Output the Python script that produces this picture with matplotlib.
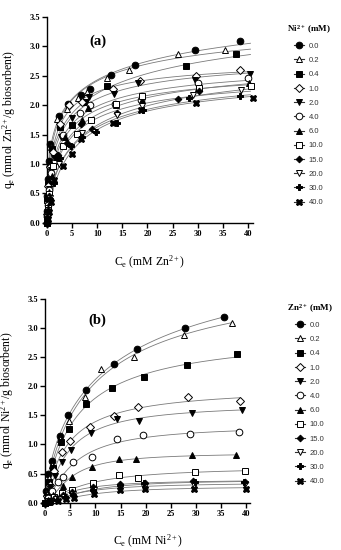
import numpy as np
import matplotlib
matplotlib.use("Agg")
import matplotlib.pyplot as plt
from matplotlib.lines import Line2D

# ---------------- data ----------------
labels = ["0.0", "0.2", "0.4", "1.0", "2.0", "4.0", "6.0", "10.0", "15.0", "20.0", "30.0", "40.0"]

# Panel (a): Zn2+ uptake, competing Ni2+ (mM)
a_C = [
    [0, 0.02, 0.05, 0.1, 0.3, 0.6, 2.4, 4.2, 6.7, 8.5, 12.7, 17.6, 29.4, 38.5],
    [0, 0.03, 0.07, 0.15, 0.4, 0.8, 1.9, 3.9, 6.2, 8.0, 11.9, 16.4, 26.0, 35.4],
    [0, 0.03, 0.08, 0.2, 0.5, 1.0, 2.6, 4.9, 7.5, 11.9, 27.6, 37.7],
    [0, 0.03, 0.1, 0.25, 0.6, 1.2, 2.6, 4.4, 7.0, 13.2, 18.5, 29.6, 38.5],
    [0, 0.04, 0.1, 0.3, 0.7, 1.3, 2.7, 5.0, 8.4, 13.4, 18.2, 29.4, 40.5],
    [0, 0.05, 0.12, 0.3, 0.8, 1.5, 3.2, 6.6, 8.5, 13.5, 18.8, 30.0, 40.0],
    [0, 0.05, 0.15, 0.35, 0.9, 1.8, 3.6, 7.0, 8.2, 13.8, 19.0, 30.0, 40.2],
    [0, 0.05, 0.15, 0.4, 1.25, 3.2, 5.9, 8.8, 13.7, 19.0, 30.3, 40.7],
    [0, 0.06, 0.18, 0.45, 1.0, 2.2, 4.0, 6.7, 9.0, 13.9, 26.1, 30.2],
    [0, 0.07, 0.2, 0.5, 1.2, 2.4, 4.8, 6.9, 9.5, 14.0, 19.0, 29.1, 38.7],
    [0, 0.08, 0.22, 0.55, 1.3, 2.6, 4.7, 7.0, 9.8, 13.9, 19.1, 28.3, 38.5],
    [0, 0.1, 0.3, 0.7, 1.4, 3.2, 5.0, 6.8, 13.1, 18.8, 29.6, 41.0],
]
a_q = [
    [0, 0.2, 0.45, 0.75, 1.05, 1.34, 1.82, 2.02, 2.17, 2.27, 2.51, 2.69, 2.94, 3.09],
    [0, 0.18, 0.4, 0.68, 1.0, 1.28, 1.76, 1.93, 2.12, 2.22, 2.47, 2.60, 2.87, 2.93],
    [0, 0.15, 0.38, 0.65, 0.98, 1.25, 1.62, 1.66, 2.05, 2.32, 2.67, 2.87],
    [0, 0.14, 0.36, 0.62, 0.95, 1.2, 1.68, 2.0, 2.05, 2.28, 2.41, 2.49, 2.60],
    [0, 0.13, 0.33, 0.58, 0.9, 1.1, 1.45, 1.78, 2.14, 2.19, 2.38, 2.43, 2.53],
    [0, 0.12, 0.3, 0.55, 0.85, 1.05, 1.5, 1.87, 2.0, 2.02, 2.09, 2.37, 2.47],
    [0, 0.11, 0.28, 0.52, 0.8, 1.12, 1.45, 1.74, 1.96, 2.0, 2.08, 2.3, 2.38],
    [0, 0.1, 0.25, 0.48, 0.97, 1.3, 1.51, 1.75, 2.02, 2.15, 2.3, 2.33],
    [0, 0.1, 0.24, 0.45, 0.74, 1.15, 1.36, 1.68, 1.6, 1.87, 2.10, 2.24],
    [0, 0.09, 0.22, 0.42, 0.7, 1.0, 1.28, 1.52, 1.55, 1.83, 1.98, 2.17, 2.25],
    [0, 0.08, 0.2, 0.4, 0.67, 1.1, 1.31, 1.45, 1.55, 1.70, 1.92, 2.12, 2.16],
    [0, 0.07, 0.18, 0.36, 0.73, 0.97, 1.17, 1.42, 1.70, 1.92, 2.04, 2.13],
]

# Panel (b): Ni2+ uptake, competing Zn2+ (mM)
b_C = [
    [0, 0.2, 0.66, 1.3, 3.0, 4.6, 8.1, 13.6, 18.3, 27.7, 35.5],
    [0, 0.25, 0.7, 1.3, 3.0, 4.8, 7.9, 11.2, 17.7, 27.6, 37.2],
    [0, 0.3, 0.8, 1.5, 3.2, 4.8, 8.1, 13.4, 19.7, 28.2, 38.2],
    [0, 0.3, 0.9, 1.8, 3.4, 5.0, 8.9, 13.7, 18.5, 28.4, 38.7],
    [0, 0.35, 1.0, 2.0, 3.3, 5.1, 9.1, 14.2, 18.7, 29.1, 39.2],
    [0, 0.5, 1.3, 2.6, 3.5, 5.6, 9.4, 14.2, 19.4, 28.8, 38.6],
    [0, 0.5, 1.5, 3.5, 5.4, 9.4, 14.7, 18.1, 29.1, 38.0],
    [0, 0.6, 1.8, 3.4, 5.3, 9.6, 14.7, 18.5, 29.8, 39.8],
    [0, 0.7, 2.0, 3.6, 5.4, 9.6, 14.8, 19.8, 29.4, 39.7],
    [0, 0.8, 2.2, 3.8, 5.5, 9.7, 14.9, 19.6, 29.6, 39.8],
    [0, 0.9, 2.4, 4.0, 5.6, 9.6, 14.8, 19.7, 29.7, 39.6],
    [0, 1.0, 2.6, 4.2, 5.7, 9.7, 14.8, 19.8, 29.5, 40.0],
]
b_q = [
    [0, 0.2, 0.49, 0.72, 1.14, 1.50, 1.94, 2.38, 2.64, 3.0, 3.19],
    [0, 0.17, 0.42, 0.65, 1.1, 1.41, 1.81, 2.29, 2.50, 2.87, 3.08],
    [0, 0.14, 0.36, 0.6, 1.05, 1.26, 1.69, 1.97, 2.16, 2.36, 2.55],
    [0, 0.12, 0.3, 0.55, 0.87, 1.06, 1.30, 1.49, 1.64, 1.82, 1.75],
    [0, 0.1, 0.27, 0.45, 0.69, 0.90, 1.20, 1.44, 1.41, 1.54, 1.59],
    [0, 0.08, 0.2, 0.36, 0.44, 0.69, 0.79, 1.09, 1.16, 1.18, 1.21],
    [0, 0.05, 0.14, 0.28, 0.44, 0.62, 0.75, 0.75, 0.81, 0.81],
    [0, 0.03, 0.09, 0.16, 0.22, 0.33, 0.48, 0.42, 0.53, 0.55],
    [0, 0.03, 0.08, 0.14, 0.18, 0.27, 0.32, 0.34, 0.37, 0.36],
    [0, 0.02, 0.06, 0.1, 0.15, 0.21, 0.27, 0.27, 0.30, 0.32],
    [0, 0.02, 0.05, 0.09, 0.13, 0.22, 0.30, 0.33, 0.35, 0.35],
    [0, 0.01, 0.03, 0.06, 0.08, 0.15, 0.22, 0.23, 0.24, 0.24],
]

# ---------------- styling ----------------
markers = ["o", "^", "s", "D", "v", "o", "^", "s", "D", "v", "P", "X"]
filled = [True, False, True, False, True, False, True, False, True, False, True, True]
msizes = [4.8, 4.8, 4.3, 4.0, 4.8, 4.8, 4.8, 4.3, 3.4, 4.8, 5.0, 4.8]

SERIF = ["Liberation Serif", "DejaVu Serif"]
SANS = ["Liberation Sans", "DejaVu Sans"]
plt.rcParams["mathtext.fontset"] = "custom"
plt.rcParams["mathtext.rm"] = "Liberation Serif"
plt.rcParams["mathtext.it"] = "Liberation Serif:italic"


def sips_fit(C, q):
    C = np.asarray(C, float)
    q = np.asarray(q, float)
    bs = np.logspace(-3, 2, 101)[:, None, None]
    ns = np.linspace(0.2, 1.6, 71)[None, :, None]
    t = (bs * C[None, None, :]) ** ns
    f = t / (1 + t)
    Qm = (f * q).sum(-1) / (f * f).sum(-1)
    sse = ((Qm[..., None] * f - q) ** 2).sum(-1)
    i, j = np.unravel_index(np.argmin(sse), sse.shape)
    return Qm[i, j], bs[i, 0, 0], ns[0, j, 0]


def sips(C, Qm, b, n):
    t = (b * C) ** n
    return Qm * t / (1 + t)


fig = plt.figure(figsize=(3.41, 5.5), dpi=100)


def panel(rect, xmax, Cs, Qs, xlab, ylab, tag, tagxy, ltitle, legpos, lineend):
    ax = fig.add_axes(rect)
    for k in range(len(labels)):
        C = np.array(Cs[k], float)
        q = np.array(Qs[k], float)
        Qm, b, n = sips_fit(C, q)
        xe = lineend if lineend is not None else C.max()
        xx = np.linspace(0, xe, 300)
        ax.plot(xx, sips(xx, Qm, b, n), color="#7a7a7a", lw=0.6, zorder=2)
        ax.plot(C, q, ls="none", marker=markers[k], ms=msizes[k],
                mfc="black" if filled[k] else "white", mec="black", mew=0.7,
                zorder=3, clip_on=False)
    ax.set_xlim(0, xmax)
    ax.set_ylim(0, 3.5)
    ax.set_xticks(np.arange(0, 41, 5))
    ax.set_yticks(np.arange(0, 3.51, 0.5))
    ax.set_yticklabels([f"{v:.1f}" for v in np.arange(0, 3.51, 0.5)])
    for s in ["top", "right"]:
        ax.spines[s].set_visible(False)
    for s in ["left", "bottom"]:
        ax.spines[s].set_linewidth(1.0)
    ax.tick_params(direction="out", length=3.5, width=1.0, pad=1.5)
    for lab in ax.get_xticklabels() + ax.get_yticklabels():
        lab.set_family(SERIF)
        lab.set_fontsize(6)
        lab.set_fontweight("bold")
    ax.set_xlabel(xlab, family=SERIF, fontsize=8.5)
    ax.set_ylabel(ylab, family=SERIF, fontsize=8.5)
    ax.xaxis.set_label_coords(0.5, -0.15)
    ax.yaxis.set_label_coords(-0.14, 0.5)
    ax.text(tagxy[0], tagxy[1], tag, family=SERIF, fontsize=10.5, fontweight="bold",
            ha="center", va="center")
    handles = [Line2D([], [], color="#333333", lw=0.8, marker=markers[k], ms=msizes[k],
                      mfc="black" if filled[k] else "white", mec="black", mew=0.7)
               for k in range(len(labels))]
    leg = fig.legend(handles, labels, loc="upper left", bbox_to_anchor=legpos,
                     frameon=False, fontsize=5.5, handlelength=1.3, handletextpad=0.6,
                     labelspacing=0.9, borderaxespad=0, borderpad=0,
                     title=ltitle, title_fontproperties={"family": SERIF, "size": 6.5,
                                                           "weight": "bold"})
    for t in leg.get_texts():
        t.set_family(SANS)
        t.set_color("#333333")
    return ax


panel([47 / 341, 1 - 222.7 / 550, 206 / 341, 205.7 / 550], 41, a_C, a_q,
      r"C$_\mathregular{e}$ (mM Zn$^\mathregular{2+}$)",
      r"q$_\mathregular{e}$ (mmol Zn$^\mathregular{2+}$/g biosorbent)",
      "(a)", (10.1, 3.09), r"Ni$^\mathregular{2+}$ (mM)", (287 / 341, 1 - 23 / 550), 40.5)

panel([45 / 341, 1 - 502.7 / 550, 205 / 341, 204 / 550], 40.7, b_C, b_q,
      r"C$_\mathregular{e}$ (mM Ni$^\mathregular{2+}$)",
      r"q$_\mathregular{e}$ (mmol Ni$^\mathregular{2+}$/g biosorbent)",
      "(b)", (10.3, 3.13), r"Zn$^\mathregular{2+}$ (mM)", (287 / 341, 1 - 302 / 550), None)

fig.savefig("out.png", dpi=100)
